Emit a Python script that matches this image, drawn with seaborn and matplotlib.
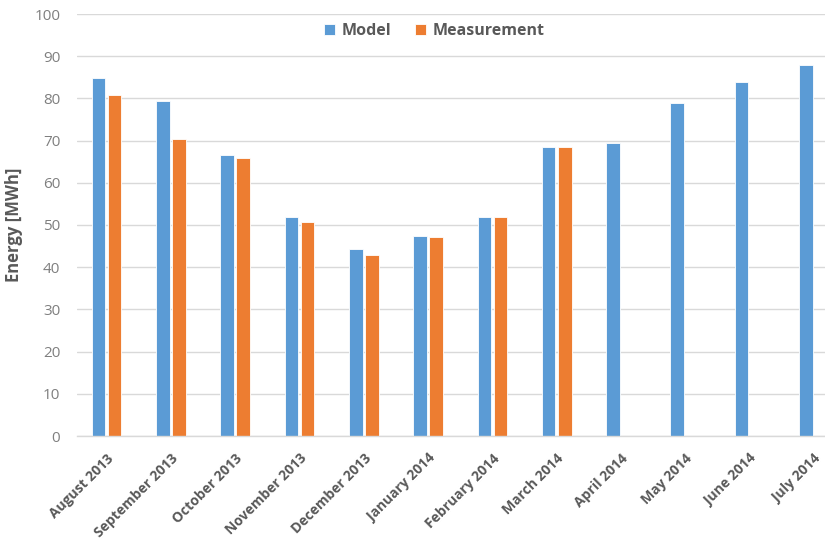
import matplotlib
matplotlib.use("Agg")
import matplotlib.pyplot as plt
import seaborn as sns
import pandas as pd
import numpy as np

months = ["August 2013", "September 2013", "October 2013", "November 2013",
          "December 2013", "January 2014", "February 2014", "March 2014",
          "April 2014", "May 2014", "June 2014", "July 2014"]
model = [84.9, 79.3, 66.6, 51.8, 44.3, 47.5, 52.0, 68.6, 69.5, 79.0, 83.8, 87.8]
measurement = [80.9, 70.4, 65.9, 50.7, 42.9, 47.2, 51.8, 68.6, np.nan, np.nan, np.nan, np.nan]
series = ["Model", "Measurement"]
colors = ["#5B9BD5", "#ED7D31"]
yticks = [0, 10, 20, 30, 40, 50, 60, 70, 80, 90, 100]

df = pd.DataFrame({"Month": months * 2,
                   "Series": [series[0]] * len(months) + [series[1]] * len(months),
                   "Energy": model + measurement})

sns.set_theme(style="white")
plt.rcParams['font.family'] = ['Open Sans', 'DejaVu Sans']

fig = plt.figure(figsize=(8.25, 5.39), dpi=100)
ax = fig.add_axes([77 / 825, (539 - 436) / 539, 1 - 77 / 825, (436 - 14) / 539])

sns.barplot(data=df, x="Month", y="Energy", hue="Series", order=months,
            hue_order=series, palette=colors, width=0.5, gap=0.15,
            saturation=1, edgecolor="white", linewidth=0.6, ax=ax, legend=True)

ax.set_ylim(0, 100)
ax.set_xlim(-0.46, -0.46 + 748 / 64.3)
ax.set_yticks(yticks)
ax.set_yticklabels([str(v) for v in yticks], color="#7F7F7F", fontsize=11)
ax.yaxis.grid(True, color="#D9D9D9", linewidth=1)
ax.set_axisbelow(True)
for s in ["top", "right", "left"]:
    ax.spines[s].set_visible(False)
ax.spines["bottom"].set_color("#D9D9D9")
ax.spines["bottom"].set_linewidth(1)
ax.tick_params(axis="y", length=0, pad=12)
ax.tick_params(axis="x", length=0, pad=11)

ax.set_xlabel("")
ax.set_ylabel("Energy [MWh]", fontsize=12, fontweight="bold", color="#595959", labelpad=8)
ax.set_xticks(range(len(months)))
ax.set_xticklabels(months, rotation=45, ha="right", rotation_mode="anchor",
                   fontsize=10, fontweight="bold", color="#595959")

handles, labels = ax.get_legend_handles_labels()
ax.legend(handles, labels, loc="center", bbox_to_anchor=(434 / 825, 1 - 31 / 539),
          bbox_transform=fig.transFigure, ncol=2, frameon=False,
          prop={"size": 11.5, "weight": "bold"}, labelcolor="#595959",
          handlelength=0.7, handleheight=0.7, handletextpad=0.4, columnspacing=1.5)

fig.savefig("out.png", dpi=100)
